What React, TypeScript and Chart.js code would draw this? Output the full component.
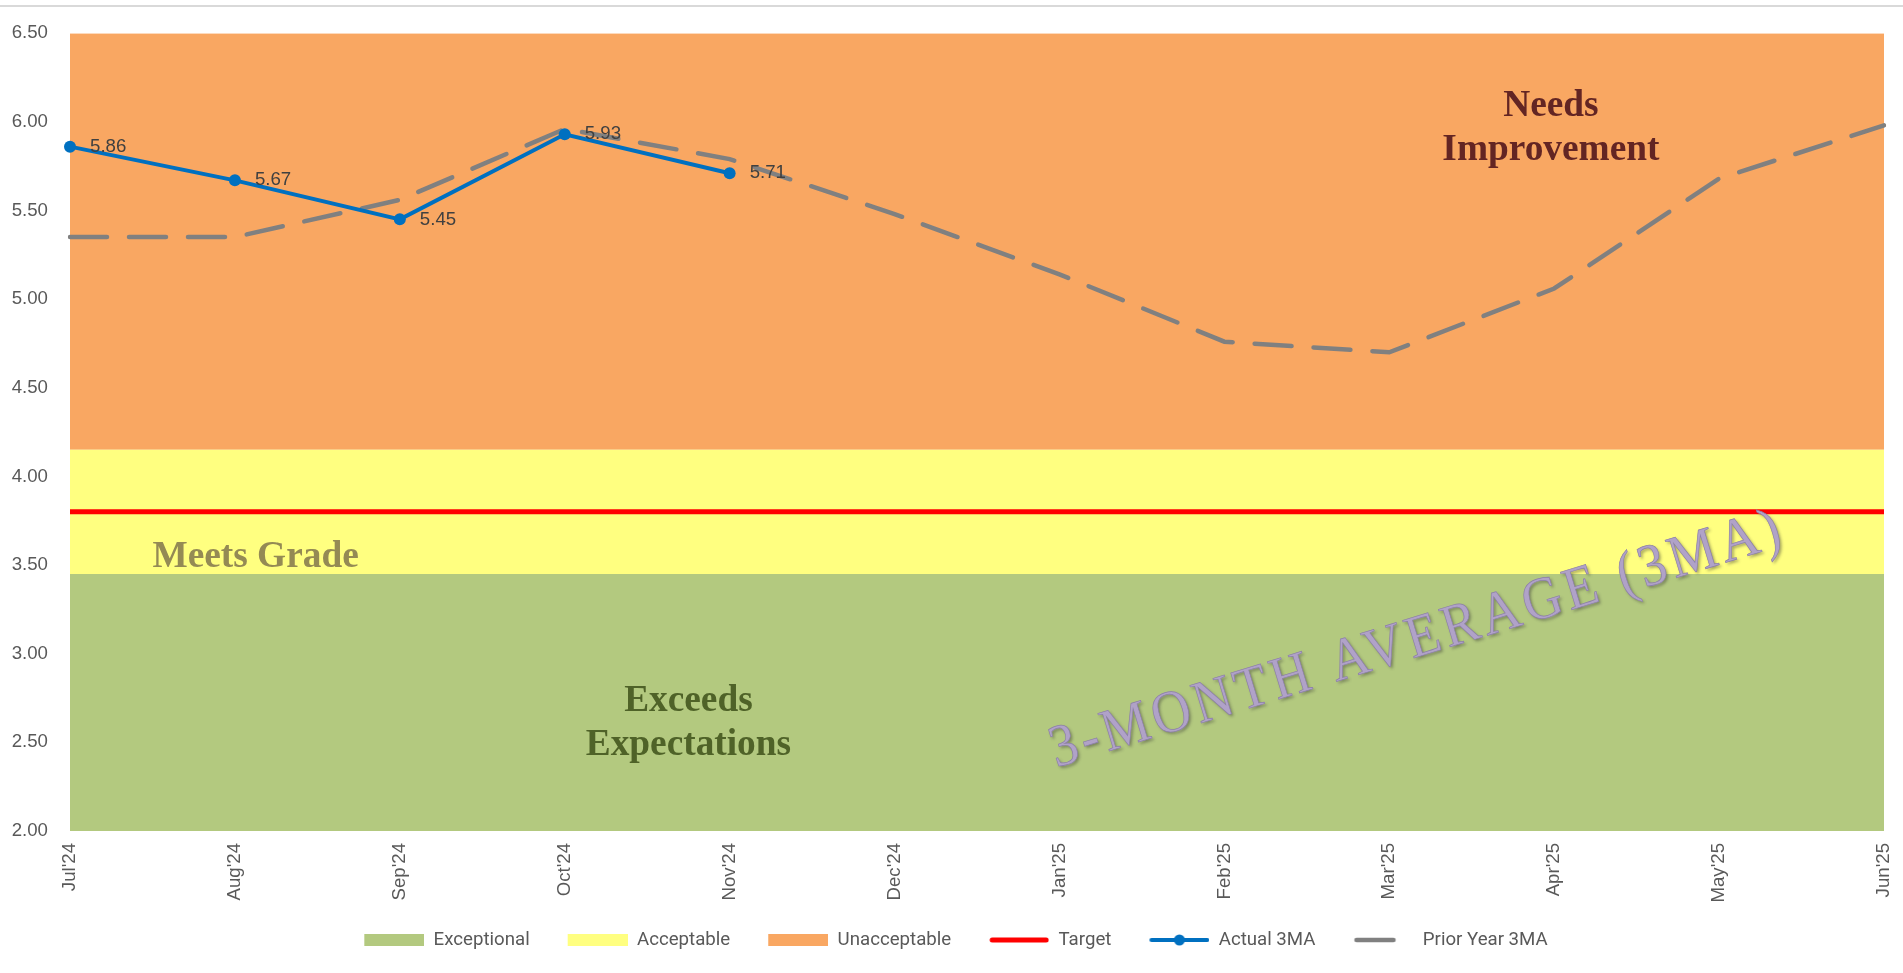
import React, { useEffect, useRef } from 'react';
import { Chart, registerables } from 'chart.js';

Chart.register(...registerables);

// ---------- data ----------
const months = ["Jul'24", "Aug'24", "Sep'24", "Oct'24", "Nov'24", "Dec'24", "Jan'25", "Feb'25", "Mar'25", "Apr'25", "May'25", "Jun'25"];
const yTicks = [2.0, 2.5, 3.0, 3.5, 4.0, 4.5, 5.0, 5.5, 6.0, 6.5];

const exceptionalTop = [3.45, 3.45, 3.45, 3.45, 3.45, 3.45, 3.45, 3.45, 3.45, 3.45, 3.45, 3.45];
const acceptableTop = [4.15, 4.15, 4.15, 4.15, 4.15, 4.15, 4.15, 4.15, 4.15, 4.15, 4.15, 4.15];
const unacceptableTop = [6.5, 6.5, 6.5, 6.5, 6.5, 6.5, 6.5, 6.5, 6.5, 6.5, 6.5, 6.5];
const target = [3.8, 3.8, 3.8, 3.8, 3.8, 3.8, 3.8, 3.8, 3.8, 3.8, 3.8, 3.8];
const actual3MA = [5.86, 5.67, 5.45, 5.93, 5.71, null, null, null, null, null, null, null];
const priorYear3MA = [5.35, 5.35, 5.56, 5.96, 5.79, 5.48, 5.14, 4.76, 4.70, 5.06, 5.68, 5.98];

const seriesNames = ['Exceptional', 'Acceptable', 'Unacceptable', 'Target', 'Actual 3MA', 'Prior Year 3MA'];

// band captions (x in category index units, y in value units)
const bandCaptions = [
  { lines: ['Needs', 'Improvement'], x: 8.98, y: 6.035, align: 'center', color: '#632523' },
  { lines: ['Meets Grade'], x: 0.5, y: 3.49, align: 'left', color: '#948A54' },
  { lines: ['Exceeds', 'Expectations'], x: 3.75, y: 2.675, align: 'center', color: '#4F6228' },
];
const watermark = { text: '3-MONTH AVERAGE (3MA)', x: 8.2, y: 2.99, angle: -17 };

// ---------- colours ----------
const GREEN = '#B3C97F';
const YELLOW = '#FFFF80';
const ORANGE = '#F9A762';
const RED = '#FF0000';
const BLUE = '#0070C0';
const GRAY = '#808080';
const TEXT = '#595959';

const ICON_W = 88; // includes 28px of leading spacing
const LEAD = 28;

function makeIcon(draw: (c: CanvasRenderingContext2D) => void) {
  const cv = document.createElement('canvas');
  cv.width = ICON_W;
  cv.height = 14;
  const c = cv.getContext('2d')!;
  c.translate(LEAD, 0);
  draw(c);
  return cv;
}

const captionPlugin = {
  id: 'captions',
  afterDatasetsDraw(chart: any) {
    const { ctx, scales } = chart;
    const xs = scales.x;
    const ys = scales.y;
    ctx.save();
    ctx.font = 'bold 37.33px "Liberation Serif", "Times New Roman", serif';
    ctx.textBaseline = 'alphabetic';
    for (const c of bandCaptions) {
      ctx.fillStyle = c.color;
      ctx.textAlign = c.align;
      const px = xs.getPixelForValue(c.x);
      const py = ys.getPixelForValue(c.y);
      c.lines.forEach((line, i) => ctx.fillText(line, px, py + i * 44));
    }
    ctx.restore();

    // watermark
    ctx.save();
    const wx = xs.getPixelForValue(watermark.x);
    const wy = ys.getPixelForValue(watermark.y);
    ctx.translate(wx, wy);
    ctx.rotate((watermark.angle * Math.PI) / 180);
    ctx.scale(0.9, 1);
    ctx.font = '60px "Liberation Serif", "Times New Roman", serif';
    try { (ctx as any).letterSpacing = '5px'; } catch (e) { /* ignore */ }
    ctx.textAlign = 'center';
    ctx.textBaseline = 'alphabetic';
    ctx.shadowColor = 'rgba(50,50,50,0.45)';
    ctx.shadowOffsetX = 2;
    ctx.shadowOffsetY = 2;
    ctx.shadowBlur = 3;
    ctx.fillStyle = '#B0A2C8';
    ctx.fillText(watermark.text, 0, 0);
    ctx.shadowColor = 'transparent';
    ctx.strokeStyle = '#8C7FA8';
    ctx.lineWidth = 0.7;
    ctx.strokeText(watermark.text, 0, 0);
    ctx.restore();

    // data labels for Actual 3MA
    const meta = chart.getDatasetMeta(4);
    ctx.save();
    ctx.font = '18.67px "Liberation Sans", Arial, sans-serif';
    ctx.fillStyle = '#404040';
    ctx.textAlign = 'left';
    ctx.textBaseline = 'middle';
    meta.data.forEach((pt: any, i: number) => {
      const v = actual3MA[i];
      if (v === null || v === undefined) return;
      ctx.fillText(v.toFixed(2), pt.x + 20, pt.y);
    });
    ctx.restore();
  },
};

export default function App() {
  const ref = useRef<HTMLCanvasElement>(null);

  useEffect(() => {
    if (!ref.current) return;

    const icons = [
      makeIcon((c) => { c.fillStyle = GREEN; c.fillRect(0, 1, 60, 12); }),
      makeIcon((c) => { c.fillStyle = YELLOW; c.fillRect(0, 1, 60, 12); }),
      makeIcon((c) => { c.fillStyle = ORANGE; c.fillRect(0, 1, 60, 12); }),
      makeIcon((c) => {
        c.strokeStyle = RED; c.lineWidth = 5; c.lineCap = 'round';
        c.beginPath(); c.moveTo(3, 7); c.lineTo(57, 7); c.stroke();
      }),
      makeIcon((c) => {
        c.strokeStyle = BLUE; c.lineWidth = 4; c.lineCap = 'round';
        c.beginPath(); c.moveTo(2, 7); c.lineTo(58, 7); c.stroke();
        c.fillStyle = BLUE; c.beginPath(); c.arc(30, 7, 5.5, 0, Math.PI * 2); c.fill();
      }),
      makeIcon((c) => {
        c.strokeStyle = GRAY; c.lineWidth = 4.5; c.lineCap = 'round';
        c.beginPath(); c.moveTo(3, 7); c.lineTo(40, 7); c.stroke();
      }),
    ];

    const chart = new Chart(ref.current, {
      type: 'line',
      data: {
        labels: months,
        datasets: [
          { label: seriesNames[0], data: exceptionalTop, fill: 'start', backgroundColor: GREEN, borderColor: GREEN, borderWidth: 0, pointRadius: 0, order: 10 },
          { label: seriesNames[1], data: acceptableTop, fill: '-1', backgroundColor: YELLOW, borderColor: YELLOW, borderWidth: 0, pointRadius: 0, order: 10 },
          { label: seriesNames[2], data: unacceptableTop, fill: '-1', backgroundColor: ORANGE, borderColor: ORANGE, borderWidth: 0, pointRadius: 0, order: 10 },
          { label: seriesNames[3], data: target, fill: false, borderColor: RED, backgroundColor: RED, borderWidth: 5, pointRadius: 0, order: 3 },
          { label: seriesNames[4], data: actual3MA, fill: false, borderColor: BLUE, backgroundColor: BLUE, borderWidth: 4, pointRadius: 6, pointBackgroundColor: BLUE, pointBorderWidth: 0, spanGaps: false, clip: false, order: 1 },
          { label: seriesNames[5], data: priorYear3MA, fill: false, borderColor: GRAY, backgroundColor: GRAY, borderWidth: 4.5, borderDash: [37, 22], borderCapStyle: 'round', pointRadius: 0, order: 2 },
        ] as any,
      },
      options: {
        animation: false,
        responsive: false,
        maintainAspectRatio: false,
        events: [],
        layout: { padding: { top: 32, left: 0, right: 19, bottom: 13.67 } },
        plugins: {
          tooltip: { enabled: false },
          legend: {
            position: 'bottom',
            labels: {
              usePointStyle: true,
              pointStyleWidth: ICON_W,
              boxHeight: 14,
              padding: 10,
              color: TEXT,
              font: { family: 'Roboto, "Liberation Sans", sans-serif', size: 18.67 },
              sort: (a: any, b: any) => a.datasetIndex - b.datasetIndex,
              generateLabels: (ch: any) => {
                const items = (Chart.defaults.plugins.legend.labels as any).generateLabels(ch);
                items.forEach((it: any) => { it.pointStyle = icons[it.datasetIndex]; });
                return items;
              },
            },
          },
        },
        scales: {
          x: {
            type: 'category',
            offset: false,
            grid: { display: false, drawTicks: false },
            border: { display: false },
            ticks: {
              autoSkip: false,
              minRotation: 90,
              maxRotation: 90,
              padding: 12,
              color: TEXT,
              font: { family: '"Liberation Sans", Arial, sans-serif', size: 18.67 },
            },
            afterFit: (s: any) => { s.height = 89.67; s.paddingLeft = 0; s.paddingRight = 0; },
          },
          y: {
            min: 2,
            max: 6.5,
            grid: { display: false, drawTicks: false },
            border: { display: false },
            afterBuildTicks: (s: any) => { s.ticks = yTicks.map((v) => ({ value: v })); },
            ticks: {
              padding: 22,
              color: TEXT,
              font: { family: '"Liberation Sans", Arial, sans-serif', size: 18.67 },
              callback: (v: any) => Number(v).toFixed(2),
            },
            afterFit: (s: any) => { s.width = 70; },
          },
        },
      } as any,
      plugins: [captionPlugin],
    });

    return () => chart.destroy();
  }, []);

  return (
    <div style={{ position: 'fixed', left: 0, top: 0, width: 1903, height: 973, background: '#ffffff' }}>
      <div style={{ position: 'absolute', left: 0, top: 5, width: 1903, height: 0, borderTop: '2px solid #D9D9D9' }} />
      <canvas ref={ref} width={1903} height={973} style={{ width: 1903, height: 973, display: 'block' }} />
    </div>
  );
}
